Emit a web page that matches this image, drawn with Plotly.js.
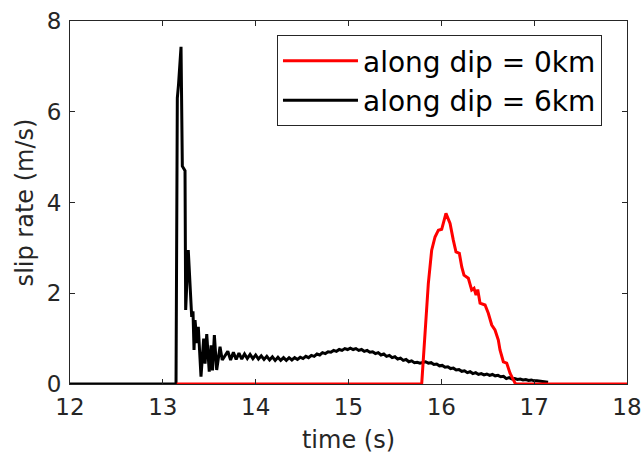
<!DOCTYPE html>
<html>
<head>
<meta charset="utf-8">
<script src="https://cdn.plot.ly/plotly-3.0.1.min.js"></script>
<style>html,body{margin:0;padding:0;background:#fff;}#chart{width:643px;height:454px;}</style>
</head>
<body>
<div id="chart"></div>
<script>
// ---- data ----
var seriesNames = ["along dip = 0km", "along dip = 6km"];

var timeDip0 = [13.15, 15.78, 15.789, 15.824, 15.860, 15.896, 15.932, 15.968, 16.004, 16.050, 16.094,
  16.129, 16.158, 16.194, 16.220, 16.244, 16.291, 16.327, 16.352, 16.374, 16.392, 16.417, 16.471,
  16.506, 16.543, 16.578, 16.614, 16.632, 16.668, 16.704, 16.740, 16.794, 16.80, 18.0];
var slipDip0 = [0, 0, 0.02, 1.12, 2.22, 2.95, 3.24, 3.39, 3.41, 3.76, 3.54,
  3.17, 2.91, 2.88, 2.58, 2.40, 2.33, 2.07, 2.11, 1.96, 2.08, 1.78, 1.74,
  1.56, 1.30, 1.19, 0.97, 0.75, 0.49, 0.46, 0.24, 0.02, 0, 0];

var timeDip6 = [12.0, 13.142, 13.156, 13.169, 13.196, 13.210, 13.239, 13.246, 13.274, 13.311, 13.325,
  13.336, 13.347, 13.368, 13.382, 13.411, 13.440, 13.455, 13.473, 13.500, 13.520, 13.535, 13.555,
  13.580, 13.616, 13.640,
  13.70, 13.73, 13.76, 13.79, 13.82, 13.85, 13.88, 13.91, 13.94, 13.97,
  14.00, 14.03, 14.06, 14.09, 14.12, 14.15, 14.18, 14.21, 14.24, 14.27,
  14.30, 14.33, 14.36, 14.39, 14.42, 14.45, 14.48, 14.51, 14.54, 14.57,
  14.60, 14.63, 14.66, 14.69, 14.72, 14.75, 14.78, 14.81, 14.84, 14.87,
  14.90, 14.93, 14.96, 14.99, 15.02, 15.05, 15.08, 15.11, 15.14, 15.17,
  15.20, 15.23, 15.26, 15.29, 15.32, 15.35, 15.38, 15.41, 15.44, 15.47,
  15.50, 15.53, 15.56, 15.59, 15.62, 15.65, 15.68, 15.71, 15.74, 15.77,
  15.83, 15.86, 15.89, 15.92, 15.95, 15.98, 16.01, 16.04, 16.07, 16.10,
  16.13, 16.16, 16.19, 16.22, 16.25, 16.28, 16.31, 16.34, 16.37, 16.40,
  16.43, 16.46, 16.49, 16.52, 16.55, 16.58, 16.61, 16.64, 16.67, 16.70,
  16.73, 16.76, 16.79, 16.82, 16.85, 16.88, 16.91, 16.94, 16.97, 17.00,
  17.03, 17.06, 17.09, 17.12, 17.15];
var slipDip6 = [0, 0, 6.3, 6.6, 7.43, 4.8, 4.7, 1.63, 2.95, 1.48, 1.6,
  0.75, 1.41, 0.9, 1.26, 0.16, 1.0, 0.45, 1.1, 0.27, 0.85, 0.3, 1.08,
  0.31, 0.82, 0.53,
  0.72, 0.53, 0.70, 0.54, 0.68, 0.55, 0.66, 0.56, 0.65, 0.56,
  0.64, 0.55, 0.62, 0.54, 0.61, 0.53, 0.60, 0.52, 0.59, 0.52,
  0.58, 0.52, 0.58, 0.53, 0.58, 0.54, 0.59, 0.56, 0.61, 0.58,
  0.63, 0.61, 0.66, 0.64, 0.69, 0.67, 0.71, 0.70, 0.74, 0.72,
  0.76, 0.74, 0.78, 0.76, 0.79, 0.76, 0.78, 0.74, 0.76, 0.72,
  0.74, 0.70, 0.71, 0.67, 0.69, 0.64, 0.66, 0.61, 0.63, 0.58,
  0.60, 0.55, 0.57, 0.52, 0.54, 0.49, 0.51, 0.47, 0.48, 0.46,
  0.49, 0.46, 0.47, 0.43, 0.44, 0.40, 0.41, 0.37, 0.38, 0.34,
  0.35, 0.31, 0.32, 0.28, 0.29, 0.25, 0.27, 0.23, 0.25, 0.21,
  0.23, 0.20, 0.22, 0.19, 0.21, 0.18, 0.19, 0.16, 0.17, 0.12,
  0.14, 0.11, 0.12, 0.10, 0.11, 0.09, 0.10, 0.08, 0.09, 0.07,
  0.07, 0.06, 0.06, 0.05, 0.04];

var xTicks = [12, 13, 14, 15, 16, 17, 18];
var yTicks = [0, 2, 4, 6, 8];

// ---- chart ----
var FONT = "DejaVu Sans, Verdana, sans-serif";
var AX = "#262626";

var traces = [
  {x: timeDip6, y: slipDip6, type: "scatter", mode: "lines", name: seriesNames[1],
   line: {color: "#000000", width: 3}, legendrank: 2},
  {x: timeDip0, y: slipDip0, type: "scatter", mode: "lines", name: seriesNames[0],
   line: {color: "#ff0000", width: 3}, legendrank: 1}
];

function axis(range, ticks, title, standoff) {
  return {
    range: range, tickvals: ticks, ticktext: ticks.map(String),
    ticks: "inside", ticklen: 5, tickwidth: 1, tickcolor: AX,
    showline: true, linecolor: AX, linewidth: 1, mirror: "ticks",
    showgrid: false, zeroline: false,
    tickfont: {family: FONT, size: 23, color: AX},
    title: {text: title, font: {family: FONT, size: 24, color: AX}, standoff: standoff}
  };
}

var xa = axis([12, 18], xTicks, "time (s)", 12);
xa.ticklabelstandoff = 2;
var ya = axis([0, 8], yTicks, "slip rate (m/s)", 6);
ya.ticklabelstandoff = 3;

var layout = {
  width: 643, height: 454,
  margin: {l: 70, r: 16, t: 21, b: 70},
  paper_bgcolor: "#ffffff", plot_bgcolor: "#ffffff",
  font: {family: FONT, color: AX},
  showlegend: true,
  legend: {
    x: 0.3716, y: 0.961, xanchor: "left", yanchor: "top",
    bgcolor: "#ffffff", bordercolor: AX, borderwidth: 1,
    font: {family: FONT, size: 28, color: "#000000"},
    itemwidth: 75
  },
  xaxis: xa,
  yaxis: ya
};

Plotly.newPlot("chart", traces, layout, {staticPlot: true, displayModeBar: false});
</script>
</body>
</html>
